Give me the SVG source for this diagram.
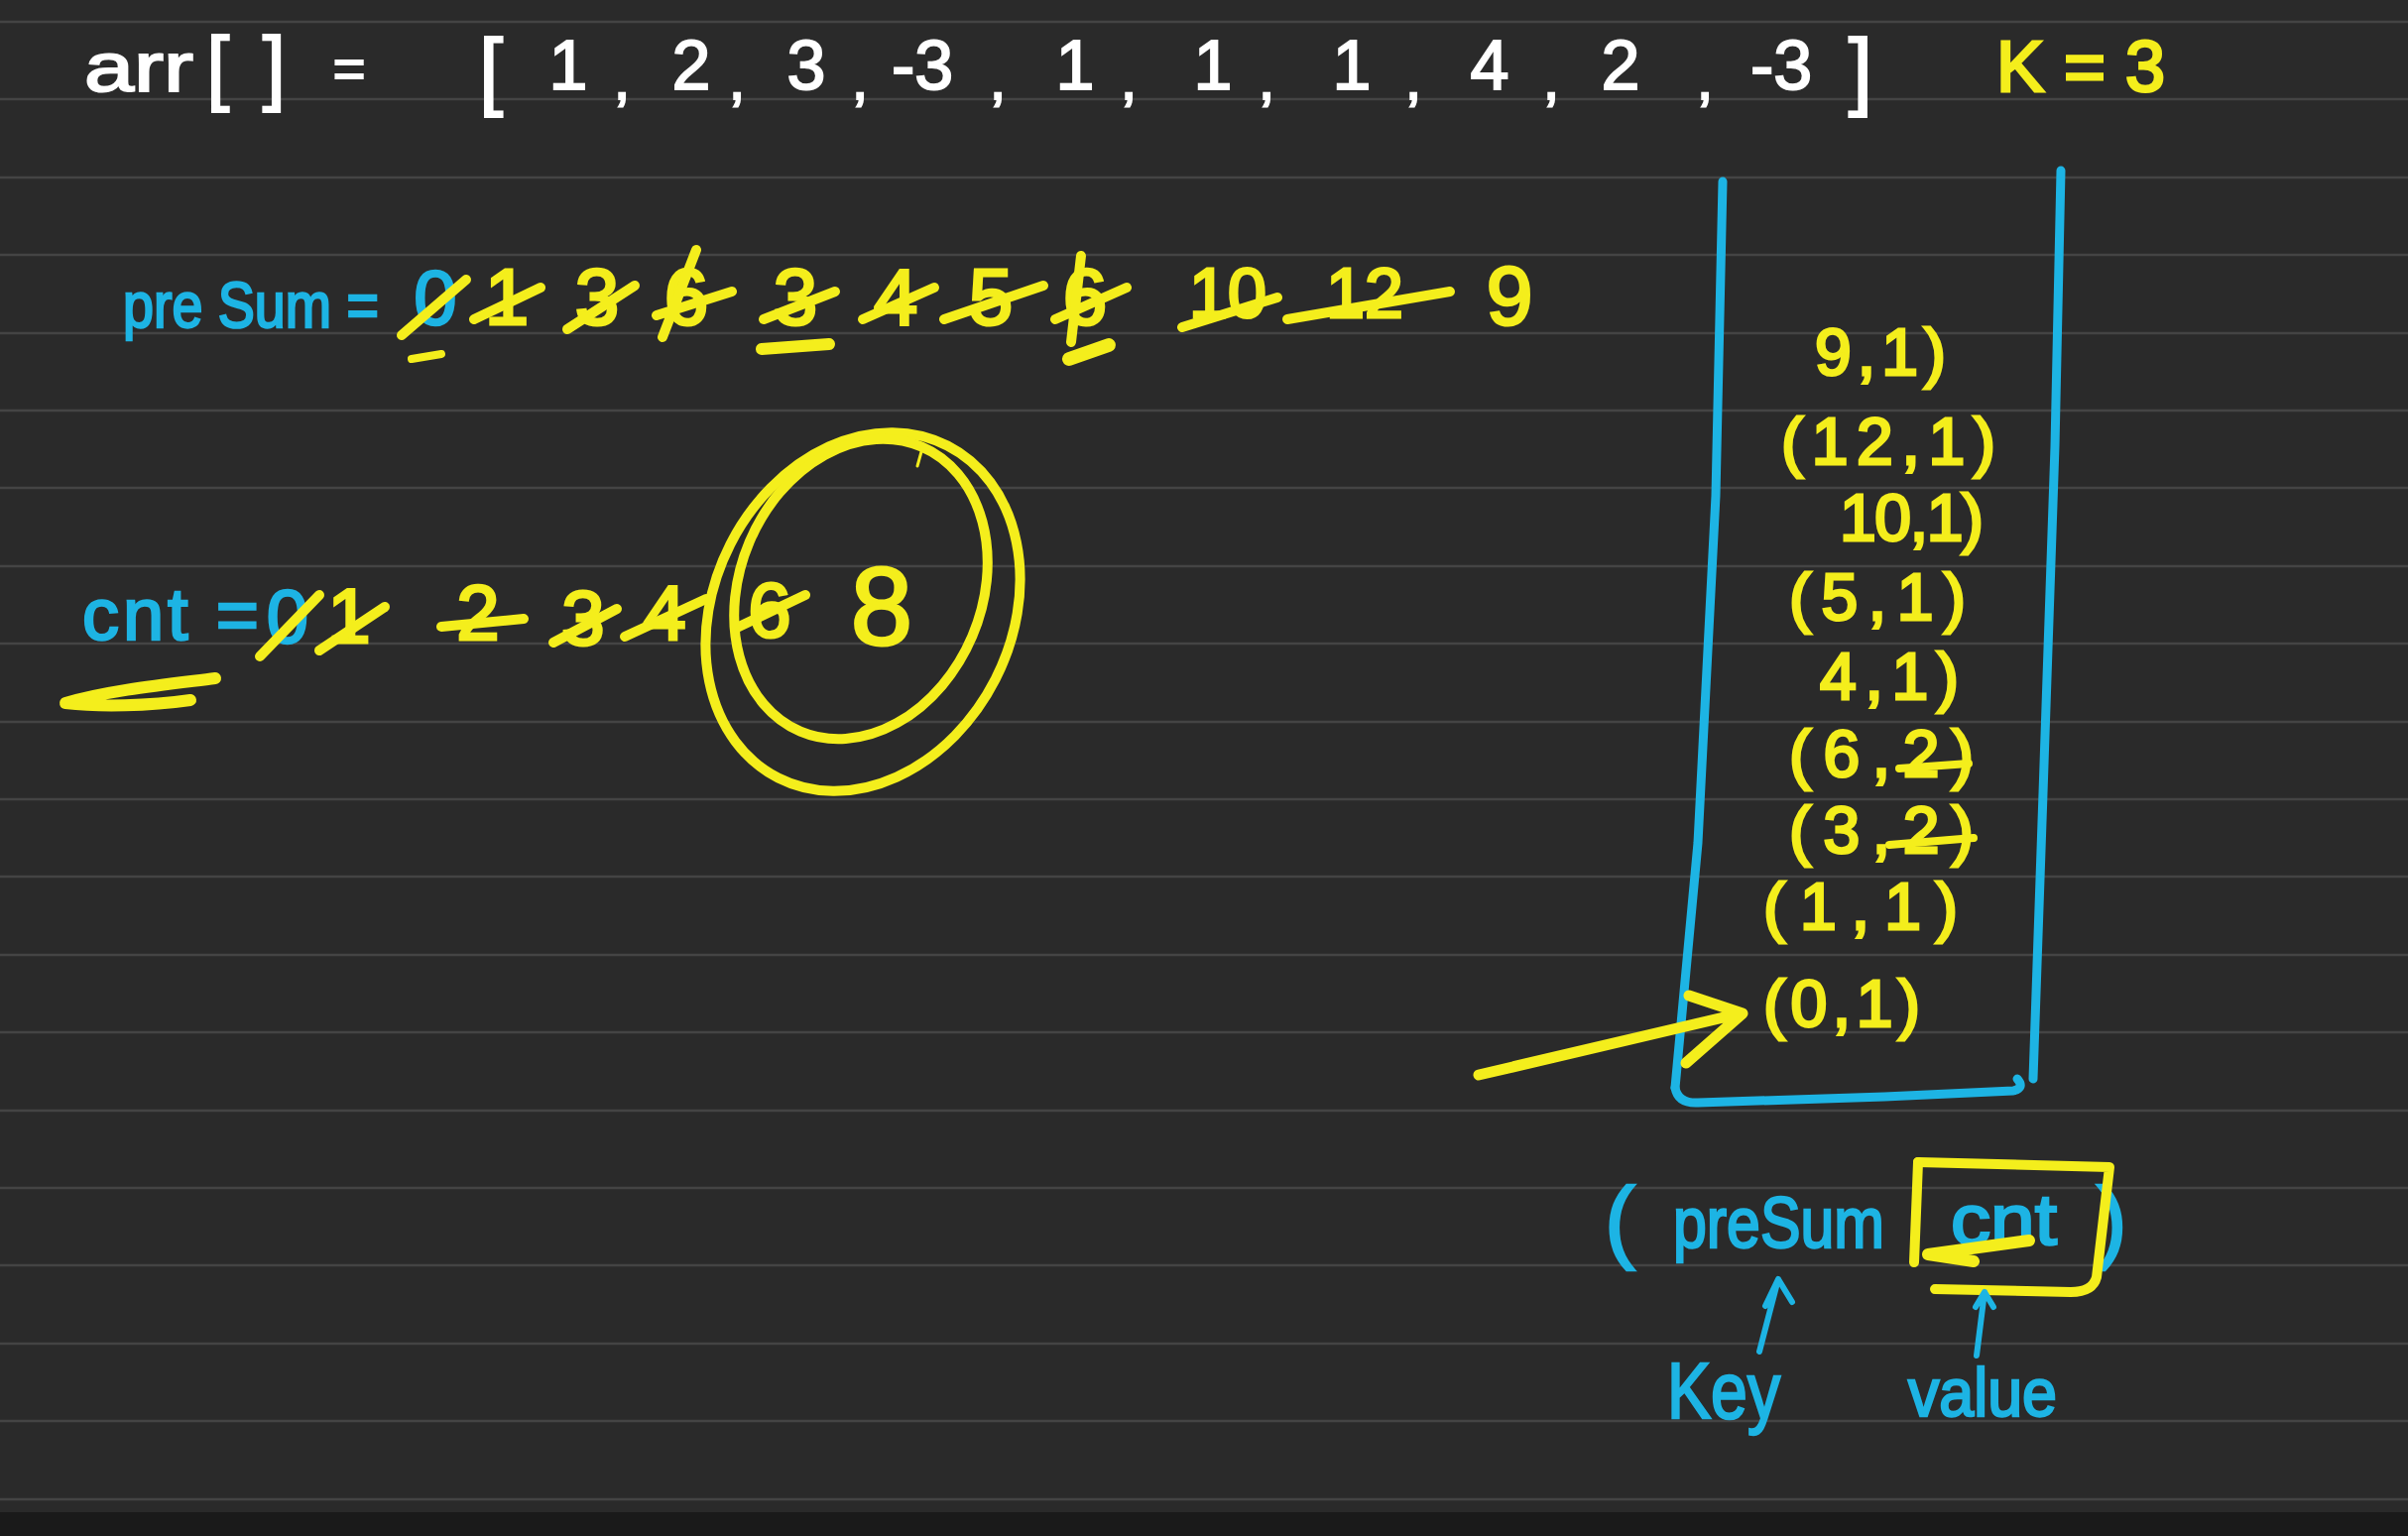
<svg xmlns="http://www.w3.org/2000/svg" width="2428" height="1549" viewBox="0 0 2428 1549">
<defs>
<style>
.bg{fill:#2a2a2a}
.rule{stroke:#444;stroke-width:2.5}
.t{font-family:"Liberation Sans","Open Sans",sans-serif}
.w{fill:#ffffff;stroke:#ffffff;stroke-width:2}
.y{fill:#f4ee1c;stroke:#f4ee1c;stroke-width:3}
.c{fill:#1db4e4;stroke:#1db4e4;stroke-width:2.5}
.ys{fill:none;stroke:#f4ee1c;stroke-linecap:round;stroke-linejoin:round}
.cs{fill:none;stroke:#1db4e4;stroke-linecap:round;stroke-linejoin:round}
.m{text-anchor:middle}
</style>
</defs>
<rect class="bg" x="0" y="0" width="2428" height="1549"/>
<g id="rules">
<line class="rule" x1="0" y1="22" x2="2428" y2="22"/>
<line class="rule" x1="0" y1="100" x2="2428" y2="100"/>
<line class="rule" x1="0" y1="179" x2="2428" y2="179"/>
<line class="rule" x1="0" y1="257" x2="2428" y2="257"/>
<line class="rule" x1="0" y1="336" x2="2428" y2="336"/>
<line class="rule" x1="0" y1="414" x2="2428" y2="414"/>
<line class="rule" x1="0" y1="492" x2="2428" y2="492"/>
<line class="rule" x1="0" y1="571" x2="2428" y2="571"/>
<line class="rule" x1="0" y1="649" x2="2428" y2="649"/>
<line class="rule" x1="0" y1="728" x2="2428" y2="728"/>
<line class="rule" x1="0" y1="806" x2="2428" y2="806"/>
<line class="rule" x1="0" y1="884" x2="2428" y2="884"/>
<line class="rule" x1="0" y1="963" x2="2428" y2="963"/>
<line class="rule" x1="0" y1="1041" x2="2428" y2="1041"/>
<line class="rule" x1="0" y1="1120" x2="2428" y2="1120"/>
<line class="rule" x1="0" y1="1198" x2="2428" y2="1198"/>
<line class="rule" x1="0" y1="1276" x2="2428" y2="1276"/>
<line class="rule" x1="0" y1="1355" x2="2428" y2="1355"/>
<line class="rule" x1="0" y1="1433" x2="2428" y2="1433"/>
<line class="rule" x1="0" y1="1512" x2="2428" y2="1512"/>
</g>
<rect x="0" y="1525" width="2428" height="24" fill="#1a1a1a"/>

<g id="array-row" class="t">
<text class="w" x="85" y="92" font-size="70" textLength="110" lengthAdjust="spacingAndGlyphs">arr</text>
<text class="w" x="208" y="96" font-size="84" textLength="80" lengthAdjust="spacing">[]</text>
<text class="w m" x="352" y="88" font-size="56">=</text>
<text class="w m" x="495" y="100" font-size="88">[</text>
<text class="w m" x="573" y="90" font-size="70">1</text>
<text class="w m" x="627" y="100" font-size="60">,</text>
<text class="w m" x="697" y="90" font-size="70">2</text>
<text class="w m" x="743" y="100" font-size="60">,</text>
<text class="w m" x="813" y="90" font-size="70">3</text>
<text class="w m" x="867" y="100" font-size="60">,</text>
<text class="w m" x="930" y="90" font-size="70">-3</text>
<text class="w m" x="1006" y="100" font-size="60">,</text>
<text class="w m" x="1084" y="90" font-size="70">1</text>
<text class="w m" x="1138" y="100" font-size="60">,</text>
<text class="w m" x="1223" y="90" font-size="70">1</text>
<text class="w m" x="1277" y="100" font-size="60">,</text>
<text class="w m" x="1363" y="90" font-size="70">1</text>
<text class="w m" x="1425" y="100" font-size="60">,</text>
<text class="w m" x="1502" y="90" font-size="70">4</text>
<text class="w m" x="1564" y="100" font-size="60">,</text>
<text class="w m" x="1634" y="90" font-size="70">2</text>
<text class="w m" x="1719" y="100" font-size="60">,</text>
<text class="w m" x="1796" y="90" font-size="70">-3</text>
<text class="w m" x="1876" y="100" font-size="88">]</text>
<text class="y" x="2013" y="92" font-size="72" textLength="170" lengthAdjust="spacing">K = 3</text>
</g>

<g id="presum-row" class="t">
<text class="c" x="124" y="330" font-size="64" textLength="258" lengthAdjust="spacingAndGlyphs">pre Sum =</text>
<text class="c m" x="439" y="327" font-size="78">0</text>
<text class="y m" x="511" y="327" font-size="80">1</text>
<text class="y m" x="602" y="327" font-size="80">3</text>
<text class="y m" x="692" y="327" font-size="80">6</text>
<text class="y m" x="802" y="327" font-size="80">3</text>
<text class="y m" x="903" y="327" font-size="80">4</text>
<text class="y m" x="999" y="327" font-size="80">5</text>
<text class="y m" x="1094" y="327" font-size="80">6</text>
<text class="y m" x="1238" y="320" font-size="70">10</text>
<text class="y m" x="1376" y="320" font-size="70">12</text>
<text class="y m" x="1522" y="327" font-size="84">9</text>
<g class="ys" stroke-width="10">
<path d="M405,338 L470,282"/>
<path d="M478,322 L545,290"/>
<path d="M572,332 L640,288"/>
<path d="M668,340 L702,252 M662,318 L738,294"/>
<path d="M770,322 L842,294"/>
<path d="M870,322 L942,290"/>
<path d="M952,322 L1052,288"/>
<path d="M1064,322 L1136,290 M1080,345 L1090,258"/>
<path d="M1192,330 L1288,300"/>
<path d="M1298,322 L1462,294"/>
<path d="M415,362 L445,357" stroke-width="8"/>
<path d="M768,352 L836,347" stroke-width="12"/>
<path d="M1078,362 L1118,348" stroke-width="14"/>
</g>
</g>

<g id="cnt-row" class="t">
<text class="c" x="83" y="645" font-size="74" textLength="178" lengthAdjust="spacing">cnt =</text>
<text class="c m" x="290" y="648" font-size="76">0</text>
<text class="y m" x="352" y="648" font-size="78">1</text>
<text class="y m" x="482" y="645" font-size="78">2</text>
<text class="y m" x="588" y="650" font-size="78">3</text>
<text class="y m" x="670" y="645" font-size="78">4</text>
<text class="y m" x="776" y="642" font-size="78">6</text>
<text class="y m" x="889" y="650" font-size="112">8</text>
<g class="ys" stroke-width="10">
<path d="M262,662 L322,600"/>
<path d="M322,656 L388,612"/>
<path d="M445,632 L528,624"/>
<path d="M558,648 L622,614"/>
<path d="M630,642 L712,604"/>
<path d="M745,632 L812,600"/>
<path d="M217,684 C170,690 110,696 66,709 C100,713 150,712 192,706" stroke-width="12"/>
<ellipse cx="870" cy="617" rx="150" ry="188" transform="rotate(27 870 617)" stroke-width="10"/>
<ellipse cx="868" cy="594" rx="122" ry="156" transform="rotate(23 868 594)" stroke-width="10"/>
<path d="M930,452 L925,470" stroke-width="3"/>
</g>
</g>

<g id="hashmap" class="t">
<g class="cs" stroke-width="9">
<path d="M1737,183 L1730,500 L1712,850 L1689,1097"/>
<path d="M2078,172 L2072,450 L2060,800 L2050,1088"/>
<path d="M1689,1097 Q1692,1113 1712,1112 L1900,1106 L2030,1100 Q2042,1097 2034,1088"/>
</g>
<text class="y" x="1830" y="378" font-size="66" textLength="132" lengthAdjust="spacing">9,1)</text>
<text class="y" x="1796" y="468" font-size="66" textLength="216" lengthAdjust="spacing">(12,1)</text>
<text class="y" x="1855" y="545" font-size="66" textLength="145" lengthAdjust="spacing">10,1)</text>
<text class="y" x="1804" y="625" font-size="66" textLength="178" lengthAdjust="spacing">(5,1)</text>
<text class="y" x="1835" y="705" font-size="66" textLength="140" lengthAdjust="spacing">4,1)</text>
<text class="y" x="1804" y="783" font-size="66" textLength="186" lengthAdjust="spacing">(6,2)</text>
<text class="y" x="1804" y="860" font-size="66" textLength="186" lengthAdjust="spacing">(3,2)</text>
<text class="y" x="1778" y="937" font-size="66" textLength="196" lengthAdjust="spacing">(1,1)</text>
<text class="y" x="1778" y="1035" font-size="66" textLength="158" lengthAdjust="spacing">(0,1)</text>
<g class="ys" stroke-width="8">
<path d="M1915,775 L1985,770"/>
<path d="M1905,852 L1990,845"/>
</g>
</g>

<g id="legend" class="t">
<text class="c" x="1618" y="1262" font-size="92" stroke-width="0">(</text>
<text class="c" x="1687" y="1258" font-size="72" textLength="213" lengthAdjust="spacingAndGlyphs">preSum</text>
<text class="c" x="1967" y="1255" font-size="72" textLength="107" lengthAdjust="spacingAndGlyphs">cnt</text>
<text class="c" x="2114" y="1262" font-size="92">)</text>
<g class="ys">
<path d="M1934,1172 L2127,1177 L2114,1288 Q2110,1303 2088,1303 L1951,1300" stroke-width="10"/>
<path d="M1934,1172 L1930,1273" stroke-width="10"/>
<path d="M2046,1251 L1944,1265 L1990,1272" stroke-width="12"/>
</g>
<text class="c" x="1681" y="1430" font-size="80" textLength="114" lengthAdjust="spacingAndGlyphs">Key</text>
<text class="c" x="1924" y="1428" font-size="68" textLength="150" lengthAdjust="spacingAndGlyphs">value</text>
</g>

<g id="connectors">
<path class="ys" stroke-width="11" d="M1491,1084 L1755,1022 M1703,1004 L1757,1022 L1700,1072"/>
<path class="cs" stroke-width="6" d="M1774,1363 L1793,1290 M1780,1317 L1793,1290 L1807,1313"/>
<path class="cs" stroke-width="6" d="M1993,1367 L2001,1303 M1992,1318 L2001,1303 L2010,1318"/>
</g>
</svg>
